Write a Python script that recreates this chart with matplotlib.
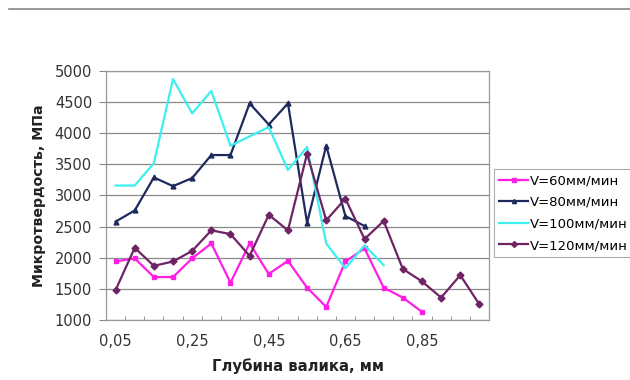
import matplotlib
matplotlib.use("Agg")
import matplotlib.pyplot as plt
from matplotlib.lines import Line2D
import numpy as np

plt.rcParams['font.family'] = ['Liberation Sans', 'DejaVu Sans']

depth = [0.05, 0.10, 0.15, 0.20, 0.25, 0.30, 0.35, 0.40, 0.45, 0.50,
         0.55, 0.60, 0.65, 0.70, 0.75, 0.80, 0.85, 0.90, 0.95, 1.00]
tick_labels = ["0,05", "0,25", "0,45", "0,65", "0,85"]

v60 = [1940, 1990, 1690, 1690, 1990, 2230, 1600, 2230, 1740, 1950,
       1520, 1210, 1940, 2150, 1520, 1360, 1130]
v80 = [2580, 2760, 3290, 3150, 3280, 3650, 3650, 4480, 4140, 4480,
       2560, 3800, 2670, 2510]
v100 = [3160, 3160, 3520, 4870, 4320, 4680, 3800, 3950, 4100, 3410,
        3780, 2230, 1830, 2200, 1880]
v120 = [1480, 2160, 1870, 1940, 2110, 2440, 2380, 2030, 2690, 2440,
        3670, 2600, 2950, 2300, 2590, 1820, 1620, 1360, 1720, 1250]

names = ["V=60мм/мин", "V=80мм/мин", "V=100мм/мин", "V=120мм/мин"]
colors = ["#FF1EE6", "#1E2A5E", "#3CF0F0", "#6E2464"]
markers = ["s", "^", None, "D"]

fig = plt.figure(figsize=(6.3, 3.8), dpi=100)
ax = fig.add_axes([106/630, 1-320/380, (489-106)/630, (320-71)/380])

series = [v60, v80, v100, v120]
for vals, c, m, n in zip(series, colors, markers, names):
    x = np.arange(len(vals))
    ax.plot(x, vals, color=c, lw=1.6, marker=m, ms=3.5, mfc=c, mec=c, label=n)

ax.set_xlim(-0.5, len(depth) - 0.5)
ax.set_ylim(1000, 5000)
ax.set_yticks(np.arange(1000, 5001, 500))
ax.yaxis.grid(True, color="#8a8a8a", lw=0.9)
ax.set_axisbelow(True)

tick_font = dict(family=['DejaVu Sans'], size=10.5)
ax.set_xticks(np.arange(-0.5, len(depth), 1), minor=True)
ax.set_xticks([0, 4, 8, 12, 16])
ax.set_xticklabels(tick_labels, **tick_font)
ax.set_yticklabels([str(v) for v in range(1000, 5001, 500)], **tick_font)
ax.tick_params(axis='x', which='major', length=0, pad=10, colors='#333333')
ax.tick_params(axis='x', which='minor', length=3, direction='in', color='#888888')
ax.tick_params(axis='y', length=5, direction='out', pad=5, color='#888888', labelcolor='#333333')

for s in ax.spines.values():
    s.set_color("#999999")
    s.set_linewidth(0.9)

ax.set_xlabel("Глубина валика, мм", fontsize=10.7, fontweight='bold', labelpad=7,
              color='#222222', family=['DejaVu Sans'])
ax.set_ylabel("Микротвердость, МПа", fontsize=10.2, fontweight='bold', labelpad=6,
              color='#222222', family=['DejaVu Sans'])

handles = [Line2D([0], [0], color=c, lw=1.6, marker=m, ms=3, mfc=c, mec=c)
           for c, m in zip(colors, markers)]
leg = fig.legend(handles, names, loc='upper left',
                 bbox_to_anchor=(494/630, 1-169/380),
                 prop=dict(family=['DejaVu Sans'], size=9.5),
                 frameon=True, fancybox=False, edgecolor='#999999',
                 handlelength=2.2, handletextpad=0.1, labelspacing=0.65,
                 borderpad=0.4, borderaxespad=0)
leg.get_frame().set_linewidth(0.8)

fig.add_artist(Line2D([9/630, 1.0], [1-9/380, 1-9/380], color="#888888", lw=1.2))

fig.savefig("out.png", dpi=100)
